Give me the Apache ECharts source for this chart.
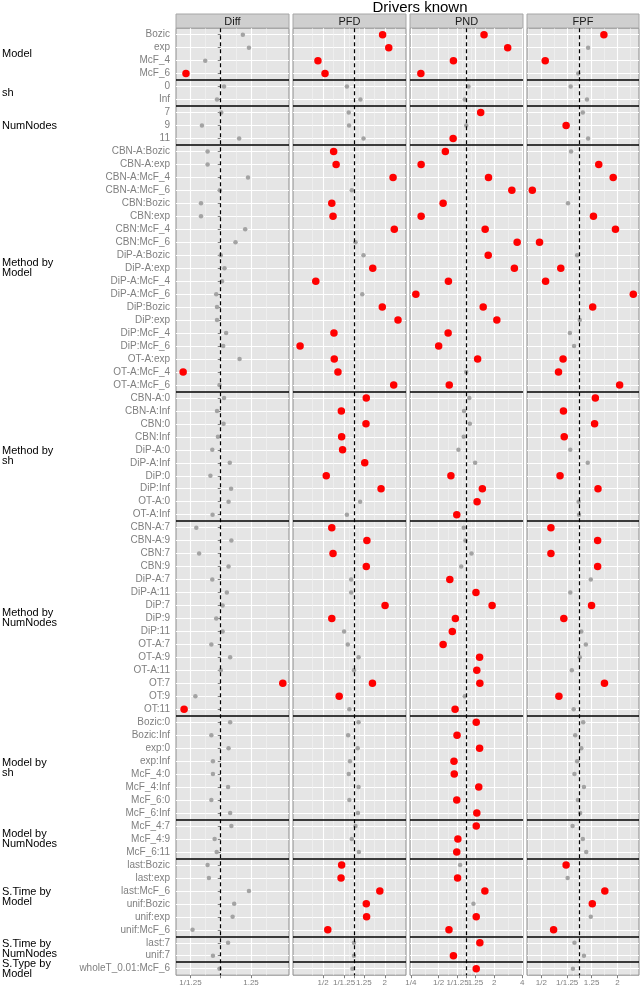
<!DOCTYPE html>
<html>
<head>
<meta charset="utf-8">
<title>Drivers known</title>
<script src="https://cdn.jsdelivr.net/npm/echarts@6/dist/echarts.min.js"></script>
<style>
  html, body { margin: 0; padding: 0; background: #fff; }
  #main { width: 641px; height: 992px; }
</style>
</head>
<body>
<div id="main"></div>
<script>
// facet rows (left side) and their number of categories
var groupNames = ['Model', 'sh', 'NumNodes', 'Method by\nModel', 'Method by\nsh', 'Method by\nNumNodes',
  'Model by\nsh', 'Model by\nNumNodes', 'S.Time by\nModel', 'S.Time by\nNumNodes', 'S.Type by\nModel']
var groupSizes = [4, 2, 3, 19, 10, 15, 8, 3, 6, 2, 1]

var rowLabels = [
  'Bozic', 'exp', 'McF_4', 'McF_6',
  '0', 'Inf',
  '7', '9', '11',
  'CBN-A:Bozic', 'CBN-A:exp', 'CBN-A:McF_4', 'CBN-A:McF_6', 'CBN:Bozic', 'CBN:exp', 'CBN:McF_4', 'CBN:McF_6',
  'DiP-A:Bozic', 'DiP-A:exp', 'DiP-A:McF_4', 'DiP-A:McF_6', 'DiP:Bozic', 'DiP:exp', 'DiP:McF_4', 'DiP:McF_6',
  'OT-A:exp', 'OT-A:McF_4', 'OT-A:McF_6',
  'CBN-A:0', 'CBN-A:Inf', 'CBN:0', 'CBN:Inf', 'DiP-A:0', 'DiP-A:Inf', 'DiP:0', 'DiP:Inf', 'OT-A:0', 'OT-A:Inf',
  'CBN-A:7', 'CBN-A:9', 'CBN:7', 'CBN:9', 'DiP-A:7', 'DiP-A:11', 'DiP:7', 'DiP:9', 'DiP:11',
  'OT-A:7', 'OT-A:9', 'OT-A:11', 'OT:7', 'OT:9', 'OT:11',
  'Bozic:0', 'Bozic:Inf', 'exp:0', 'exp:Inf', 'McF_4:0', 'McF_4:Inf', 'McF_6:0', 'McF_6:Inf',
  'McF_4:7', 'McF_4:9', 'McF_6:11',
  'last:Bozic', 'last:exp', 'last:McF_6', 'unif:Bozic', 'unif:exp', 'unif:McF_6',
  'last:7', 'unif:7',
  'wholeT_0.01:McF_6'
]

var panelNames = ['Diff', 'PFD', 'PND', 'FPF']

// log2 ratios, one per row
var diffLog2 = [0.235, 0.30, -0.165, -0.37, 0.035, -0.04, 0.005, -0.20, 0.196,
  -0.14, -0.14, 0.29, -0.01, -0.21, -0.21, 0.26, 0.157, 0.0, 0.04, 0.013, -0.048, -0.04, -0.04, 0.057, 0.026, 0.20, -0.40, -0.013,
  0.035, -0.04, 0.03, -0.03, -0.09, 0.096, -0.11, 0.11, 0.083, -0.087,
  -0.26, 0.113, -0.23, 0.083, -0.09, 0.065, 0.02, -0.048, 0.02, -0.10, 0.10, 0.0, 0.66, -0.27, -0.39,
  0.10, -0.10, 0.083, -0.083, -0.083, 0.078, -0.10, 0.10,
  0.113, -0.065, -0.043,
  -0.14, -0.126, 0.30, 0.143, 0.126, -0.30,
  0.078, -0.083,
  -0.013]
var diffSig = [0, 0, 0, 1, 0, 0, 0, 0, 0,
  0, 0, 0, 0, 0, 0, 0, 0, 0, 0, 0, 0, 0, 0, 0, 0, 0, 1, 0,
  0, 0, 0, 0, 0, 0, 0, 0, 0, 0,
  0, 0, 0, 0, 0, 0, 0, 0, 0, 0, 0, 0, 1, 0, 1,
  0, 0, 0, 0, 0, 0, 0, 0,
  0, 0, 0,
  0, 0, 0, 0, 0, 0,
  0, 0,
  0]

var pfdLog2 = [0.93, 1.13, -1.17, -0.94, -0.23, 0.21, -0.17, -0.16, 0.31,
  -0.66, -0.58, 1.27, -0.07, -0.72, -0.68, 1.31, 0.05, 0.31, 0.61, -1.24, 0.27, 0.92, 1.43, -0.65, -1.75, -0.64, -0.52, 1.29,
  0.40, -0.41, 0.39, -0.40, -0.37, 0.35, -0.90, 0.88, 0.20, -0.23,
  -0.72, 0.42, -0.68, 0.40, -0.09, -0.09, 1.01, -0.72, -0.32, -0.20, 0.15, 0.0, 0.60, -0.48, -0.15,
  0.15, -0.19, 0.12, -0.13, -0.17, 0.15, -0.15, 0.13,
  0.05, -0.07, 0.16,
  -0.40, -0.42, 0.84, 0.40, 0.41, -0.85,
  0.0, 0.0,
  -0.05]
var pfdSig = [1, 1, 1, 1, 0, 0, 0, 0, 0,
  1, 1, 1, 0, 1, 1, 1, 0, 0, 1, 1, 0, 1, 1, 1, 1, 1, 1, 1,
  1, 1, 1, 1, 1, 1, 1, 1, 0, 0,
  1, 1, 1, 1, 0, 0, 1, 1, 0, 0, 0, 0, 1, 1, 0,
  0, 0, 0, 0, 0, 0, 0, 0,
  0, 0, 0,
  1, 1, 1, 1, 1, 1,
  0, 0,
  0]

var pndLog2 = [0.63, 1.48, -0.47, -1.64, 0.07, -0.06, 0.51, -0.01, -0.48,
  -0.76, -1.63, 0.79, 1.63, -0.84, -1.63, 0.67, 1.82, 0.78, 1.72, -0.65, -1.82, 0.60, 1.09, -0.66, -1.0, 0.40, -0.01, -0.62,
  0.10, -0.09, 0.12, -0.10, -0.29, 0.31, -0.56, 0.57, 0.38, -0.35,
  -0.10, -0.04, 0.18, -0.19, -0.60, 0.34, 0.92, -0.40, -0.51, -0.84, 0.47, 0.37, 0.48, -0.06, -0.41,
  0.35, -0.34, 0.47, -0.45, -0.44, 0.44, -0.35, 0.37,
  0.35, -0.31, -0.35,
  -0.23, -0.32, 0.66, 0.25, 0.35, -0.63,
  0.48, -0.47,
  0.35]
var pndSig = [1, 1, 1, 1, 0, 0, 1, 0, 1,
  1, 1, 1, 1, 1, 1, 1, 1, 1, 1, 1, 1, 1, 1, 1, 1, 1, 0, 1,
  0, 0, 0, 0, 0, 0, 1, 1, 1, 1,
  0, 0, 0, 0, 1, 1, 1, 1, 1, 1, 1, 1, 1, 0, 1,
  1, 1, 1, 1, 1, 1, 1, 1,
  1, 1, 1,
  0, 1, 1, 0, 1, 1,
  1, 1,
  1]

var fpfLog2 = [0.645, 0.23, -0.90, -0.03, -0.23, 0.20, 0.09, -0.35, 0.23,
  -0.22, 0.51, 0.89, -1.24, -0.30, 0.37, 0.95, -1.05, -0.06, -0.49, -0.89, 1.42, 0.35, 0.01, -0.25, -0.14, -0.43, -0.55, 1.06,
  0.42, -0.42, 0.40, -0.40, -0.24, 0.22, -0.51, 0.49, -0.02, -0.01,
  -0.75, 0.48, -0.75, 0.48, 0.30, -0.24, 0.32, -0.41, 0.05, 0.17, 0.01, -0.20, 0.66, -0.54, -0.15,
  0.10, -0.11, 0.05, -0.06, -0.13, 0.12, -0.04, 0.02,
  -0.18, 0.09, 0.18,
  -0.35, -0.31, 0.67, 0.34, 0.30, -0.68,
  -0.13, 0.12,
  -0.17]
var fpfSig = [1, 0, 1, 0, 0, 0, 0, 1, 0,
  0, 1, 1, 1, 0, 1, 1, 1, 0, 1, 1, 1, 1, 0, 0, 0, 1, 1, 1,
  1, 1, 1, 1, 0, 0, 1, 1, 0, 0,
  1, 1, 1, 1, 0, 0, 1, 1, 0, 0, 0, 0, 1, 1, 0,
  0, 0, 0, 0, 0, 0, 0, 0,
  0, 0, 0,
  1, 0, 1, 1, 0, 1,
  0, 0,
  0]

// x scale (log2) limits and breaks for each panel
var xMin = [-0.476, -1.98, -2.03, -1.38]
var xMax = [0.726, 1.69, 2.03, 1.57]
var breakRatios = [
  [1 / 1.25, 1, 1.25],
  [1 / 2, 1 / 1.25, 1, 1.25, 2],
  [1 / 4, 1 / 2, 1 / 1.25, 1, 1.25, 2, 4],
  [1 / 2, 1 / 1.25, 1, 1.25, 2]
]
var breakLabels = [
  ['1/1.25', '', '1.25'],
  ['1/2', '1/1.25', '', '1.25', '2'],
  ['1/4', '1/2', '1/1.25', '', '1.25', '2', '4'],
  ['1/2', '1/1.25', '', '1.25', '2']
]

var values = [diffLog2, pfdLog2, pndLog2, fpfLog2]
var sigs = [diffSig, pfdSig, pndSig, fpfSig]

var gridLeft = [176, 293, 410, 527]
var gridWidth = [113, 113, 113, 112]
var plotTop = 28.2
var plotHeight = 947
var rowH = plotHeight / rowLabels.length
var fontFamily = '"Liberation Sans", Arial, sans-serif'

var chart = echarts.init(document.getElementById('main'))

function rowIndexValues() {
  var out = []
  for (var i = 1; i <= rowLabels.length; i++) out.push(i)
  return out
}

function minorBreaks(b) {
  var bd = b[1] - b[0]
  var ext = [b[0] - bd].concat(b, [b[b.length - 1] + bd])
  var out = []
  for (var i = 0; i < ext.length - 1; i++) out.push((ext[i] + ext[i + 1]) / 2)
  return out
}

// group separators (between facet rows)
var separators = []
var acc = 0
for (var g = 0; g < groupSizes.length - 1; g++) {
  acc += groupSizes[g]
  separators.push(acc + 0.5)
}

var grids = [], xAxes = [], yAxes = [], series = [], graphics = []

panelNames.forEach(function (name, p) {
  var breaks = breakRatios[p].map(function (r) { return Math.log2(r) })
  var minors = minorBreaks(breaks).filter(function (v) { return v > xMin[p] && v < xMax[p] })

  grids.push({
    left: gridLeft[p],
    top: plotTop,
    width: gridWidth[p],
    height: plotHeight,
    show: true,
    backgroundColor: '#E5E5E5',
    borderColor: '#8C8C8C',
    borderWidth: 1,
    outerBoundsMode: 'none'
  })

  xAxes.push({
    type: 'value',
    gridIndex: p,
    min: xMin[p],
    max: xMax[p],
    axisLine: { show: false },
    axisTick: {
      show: true,
      length: 3,
      customValues: breaks,
      lineStyle: { color: '#7F7F7F', width: 1 }
    },
    axisLabel: {
      show: true,
      margin: 4,
      customValues: breaks,
      color: '#7F7F7F',
      fontSize: 8,
      fontFamily: fontFamily,
      formatter: function (v) {
        for (var i = 0; i < breaks.length; i++) {
          if (Math.abs(breaks[i] - v) < 1e-6) return breakLabels[p][i]
        }
        return ''
      }
    },
    splitLine: {
      show: true,
      lineStyle: { color: '#FFFFFF', width: 1.1 }
    }
  })

  yAxes.push({
    type: 'value',
    gridIndex: p,
    min: 0.5,
    max: rowLabels.length + 0.5,
    inverse: true,
    axisLine: { show: false },
    axisTick: {
      show: p === 0,
      length: 3,
      customValues: rowIndexValues(),
      lineStyle: { color: '#7F7F7F', width: 1 }
    },
    axisLabel: {
      show: p === 0,
      margin: 6,
      customValues: rowIndexValues(),
      color: '#7F7F7F',
      fontSize: 10,
      fontFamily: fontFamily,
      formatter: function (v) {
        return rowLabels[Math.round(v) - 1]
      }
    },
    splitLine: {
      show: true,
      lineStyle: { color: '#FFFFFF', width: 1.1 }
    }
  })

  var greyData = [], redData = []
  values[p].forEach(function (v, i) {
    if (sigs[p][i]) redData.push([v, i + 1])
    else greyData.push([v, i + 1])
  })

  series.push({
    name: name + ' ns',
    type: 'scatter',
    xAxisIndex: p,
    yAxisIndex: p,
    symbolSize: 4.5,
    itemStyle: { color: '#A3A3A3', opacity: 1 },
    data: greyData,
    silent: true,
    z: 3,
    markLine: {
      silent: true,
      symbol: 'none',
      z: 1,
      label: { show: false },
      lineStyle: { color: '#F4F4F4', width: 0.6, type: 'solid' },
      data: minors.map(function (m) { return { xAxis: m } })
    }
  })

  var lines = [{ xAxis: 0, lineStyle: { color: '#000000', width: 1.2, type: [4, 3] } }]
  separators.forEach(function (s) {
    lines.push({ yAxis: s, lineStyle: { color: '#000000', width: 1.5, type: 'solid' } })
  })

  series.push({
    name: name,
    type: 'scatter',
    xAxisIndex: p,
    yAxisIndex: p,
    symbolSize: 7.5,
    itemStyle: { color: '#FF0000', opacity: 1 },
    data: redData,
    silent: true,
    z: 4,
    markLine: {
      silent: true,
      symbol: 'none',
      z: 5,
      label: { show: false },
      data: lines
    }
  })

  // strip header
  graphics.push({
    type: 'rect',
    shape: { x: gridLeft[p], y: 14, width: gridWidth[p], height: 14 },
    style: { fill: '#CFCFCF', stroke: '#A6A6A6', lineWidth: 1 }
  })
  graphics.push({
    type: 'text',
    x: gridLeft[p] + gridWidth[p] / 2,
    y: 21.5,
    style: {
      text: name,
      fill: '#1A1A1A',
      font: '11px ' + fontFamily,
      align: 'center',
      verticalAlign: 'middle'
    }
  })
})

// title
graphics.push({
  type: 'text',
  x: 420,
  y: 7.5,
  style: {
    text: 'Drivers known',
    fill: '#000000',
    font: '15px ' + fontFamily,
    align: 'center',
    verticalAlign: 'middle'
  }
})

// facet row labels on the left
var start = 0
groupNames.forEach(function (gname, g) {
  var cy = plotTop + (start + groupSizes[g] / 2) * rowH
  graphics.push({
    type: 'text',
    x: 2,
    y: cy,
    style: {
      text: gname,
      fill: '#000000',
      font: '11px ' + fontFamily,
      lineHeight: 10,
      align: 'left',
      verticalAlign: 'middle'
    }
  })
  start += groupSizes[g]
})

var option = {
  animation: false,
  backgroundColor: '#FFFFFF',
  textStyle: { fontFamily: fontFamily },
  grid: grids,
  xAxis: xAxes,
  yAxis: yAxes,
  series: series,
  graphic: graphics
}

chart.setOption(option)
</script>
</body>
</html>
